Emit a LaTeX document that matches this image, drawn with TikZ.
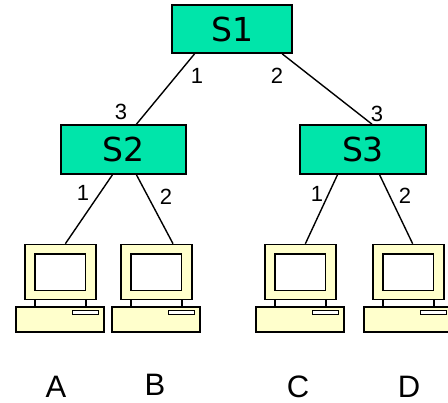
\documentclass[tikz,border=0pt]{standalone}
\usepackage{fontspec}
\setmainfont{Liberation Sans}
\newfontfamily\swfont{DejaVu Sans}
\usetikzlibrary{calc}
\definecolor{sw}{HTML}{00E5AA}
\definecolor{pc}{HTML}{FFFFCC}
\tikzset{
 swbox/.style={draw=black,fill=sw,line width=1.7pt,inner sep=0pt,font=\swfont\fontsize{33}{33}\selectfont,text=black,anchor=center},
 lnk/.style={draw=black,line width=1.4pt},
 port/.style={font=\fontsize{22}{22}\selectfont,inner sep=0pt,text=black},
 host/.style={font=\fontsize{31}{31}\selectfont,inner sep=0pt,text=black},
 mon/.style={draw=black,fill=pc,line width=1.6pt,minimum width=71pt,minimum height=55pt,inner sep=0pt},
 scr/.style={draw=black,fill=white,line width=1.6pt,minimum width=50.5pt,minimum height=36.5pt,inner sep=0pt},
 bas/.style={draw=black,fill=pc,line width=1.6pt,minimum width=88pt,minimum height=25.5pt,inner sep=0pt},
 slt/.style={draw=black,fill=white,line width=1.1pt,minimum width=26pt,minimum height=3.5pt,inner sep=0pt},
 leg/.style={draw=black,line width=1.6pt},
}
\newcommand{\pcat}[2]{%
 \node[bas] (#1base) at (60+#2,319.5) {};
 \node[mon] (#1mon) at (60.3+#2,272) {};
 \node[scr] (#1scr) at (60.2+#2,272.3) {};
 \node[slt] (#1slt) at (85.5+#2,312.6) {};
 \draw[leg] ($(#1mon.south west)!0.15!(#1mon.south east)$) -- ($(#1mon.south west)!0.15!(#1mon.south east)+(0,7)$);
 \draw[leg] ($(#1mon.south west)!0.85!(#1mon.south east)$) -- ($(#1mon.south west)!0.85!(#1mon.south east)+(0,7)$);
}
\begin{document}
\begin{tikzpicture}[x=1pt,y=-1pt]
\useasboundingbox (0,0) rectangle (448,403);
\node[swbox,minimum width=120pt,minimum height=48pt] (s1) at (232.3,29) {S1};
\node[swbox,minimum width=125pt,minimum height=49pt] (s2) at (123.8,149.5) {S2};
\node[swbox,minimum width=126pt,minimum height=49pt] (s3) at (363,149.5) {S3};
\pcat{a}{0}
\pcat{b}{96}
\pcat{c}{240}
\pcat{d}{348}
\draw[lnk] ($(s1.south west)!0.19!(s1.south east)$) -- ($(s2.north west)!0.6!(s2.north east)$);
\draw[lnk] ($(s1.south west)!0.91!(s1.south east)$) -- ($(s3.north west)!0.57!(s3.north east)$);
\draw[lnk] ($(s2.south west)!0.41!(s2.south east)$) -- ($(amon.north west)!0.57!(amon.north east)$);
\draw[lnk] ($(s2.south west)!0.6!(s2.south east)$) -- ($(bmon.north west)!0.73!(bmon.north east)$);
\draw[lnk] ($(s3.south west)!0.3!(s3.south east)$) -- ($(cmon.north west)!0.57!(cmon.north east)$);
\draw[lnk] ($(s3.south west)!0.63!(s3.south east)$) -- ($(dmon.north west)!0.56!(dmon.north east)$);
\node[port] (p1) at (197,76) {1};
\node[port] (p2) at (277,76) {2};
\node[port] (p3) at (121,112) {3};
\node[port] (p4) at (377,114) {3};
\node[port] (p5) at (83,193) {1};
\node[port] (p6) at (166,197) {2};
\node[port] (p7) at (317,194) {1};
\node[port] (p8) at (405,196) {2};
\node[host] (la) at (56,386.5) {A};
\node[host] (lb) at (155,385) {B};
\node[host] (lc) at (298,386.5) {C};
\node[host] (ld) at (409,386.5) {D};
\end{tikzpicture}
\end{document}
